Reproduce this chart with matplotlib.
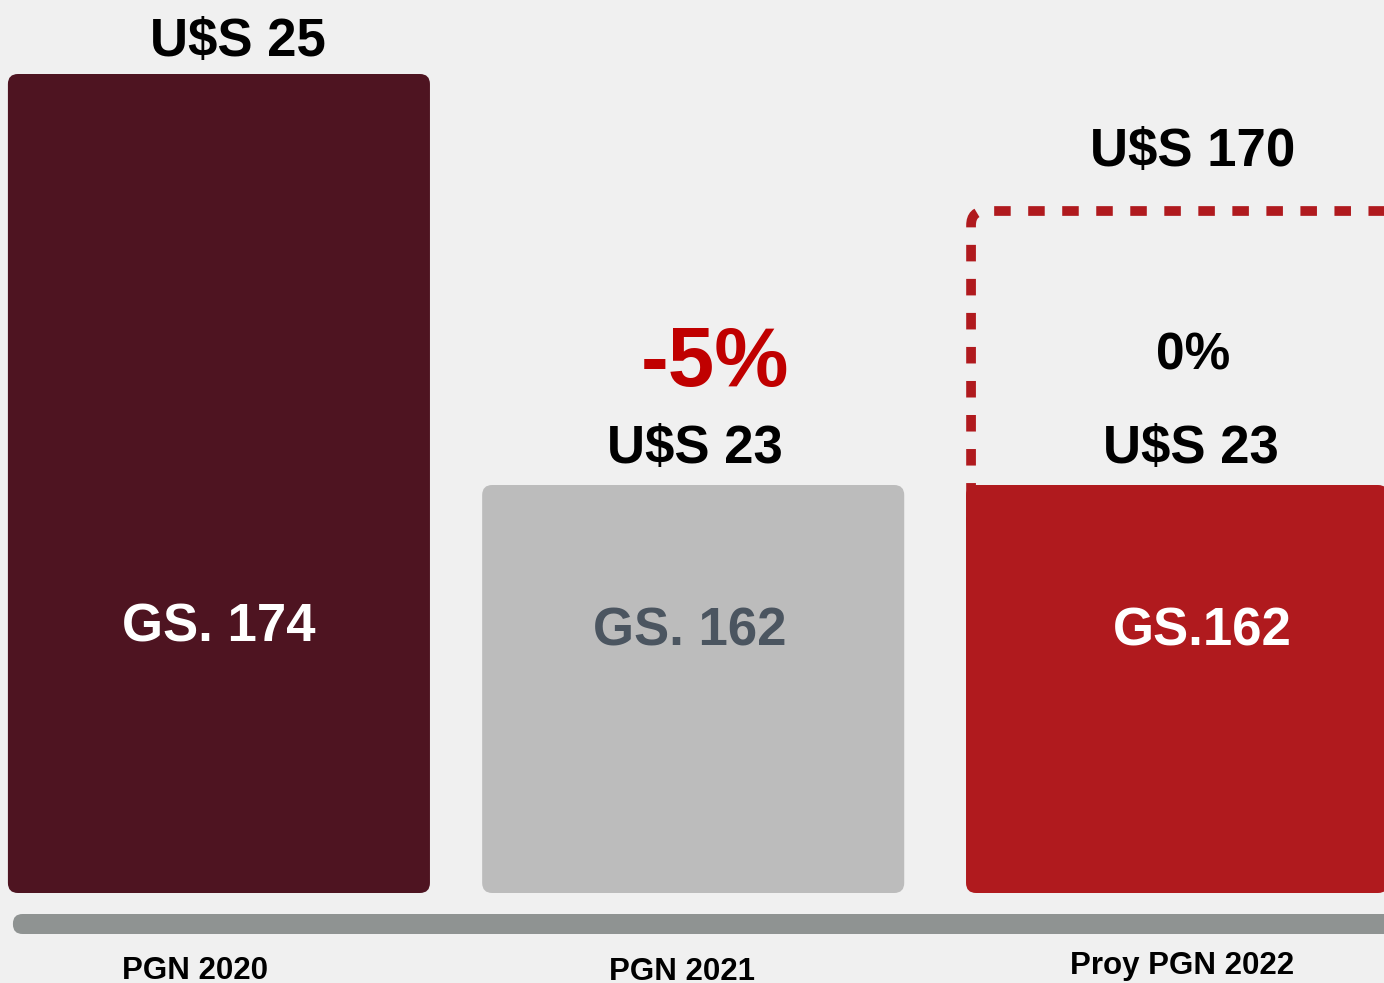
import matplotlib.pyplot as plt
from matplotlib.patches import FancyBboxPatch

# data
categories = ['PGN 2020', 'PGN 2021', 'Proy PGN 2022']
bar_heights = [819, 408, 408]          # relative bar heights
usd_labels = ['U$S 25', 'U$S 23', 'U$S 23']
gs_labels = ['GS. 174', 'GS. 162', 'GS.162']
change_labels = ['', '-5%', '0%']
target_label = 'U$S 170'
target_height = 682

bar_colors = ['#4e1421', '#bcbcbc', '#b01a1e']
gs_colors = ['white', '#4b5560', 'white']
change_colors = ['black', '#c00000', 'black']

plt.rcParams['font.family'] = ['Liberation Sans', 'DejaVu Sans']
plt.rcParams['font.weight'] = 'bold'

fig = plt.figure(figsize=(13.84, 9.83), dpi=100)
fig.patch.set_facecolor('#f0f0f0')
ax = fig.add_axes([0, 0, 1, 1])
ax.set_facecolor('#f0f0f0')
ax.set_xlim(-0.457, 2.432)
ax.set_ylim(-90, 893)
ax.axis('off')

# x unit vs y unit in pixels -> keeps corners round
aspect = 479.0

x = [0, 0.99, 2]
bars = ax.bar(x, bar_heights, width=0.881, color=bar_colors)
for b in bars:
    b.set_visible(False)
    rp = FancyBboxPatch((b.get_x(), b.get_y()), b.get_width(), b.get_height(),
                        boxstyle='round,pad=0,rounding_size=0.021',
                        mutation_aspect=aspect, fc=b.get_facecolor(),
                        ec='none', zorder=2)
    ax.add_patch(rp)

# gray base line
ax.add_patch(FancyBboxPatch((-0.43, -41), 3.0, 20,
                            boxstyle='round,pad=0,rounding_size=0.02',
                            mutation_aspect=aspect, fc='#8f9392', ec='none',
                            zorder=2))

# dashed target box for the projection
box = FancyBboxPatch((1.57, 358), 1.2, target_height - 358,
                     boxstyle='round,pad=0,rounding_size=0.03',
                     mutation_aspect=aspect, fill=False, ec='#b01a1e',
                     lw=7, linestyle=(0, (1.7, 1.8)), zorder=3)
ax.add_patch(box)
ax.text(2.033, 741, target_label, ha='center', va='center', fontsize=38,
        color='black', zorder=5)

usd_dx = [0.04, 0.004, 0.029]
gs_dx = [0.0, -0.007, 0.052]
lab_dx = [-0.05, -0.023, 0.01]
lab_y = [-78, -79, -73]
chg_dx = [0, 0.045, 0.033]
chg_size = [0, 60, 37]
chg_y = [0, 529, 537]

for i, xi in enumerate(x):
    top = bar_heights[i]
    ytxt = 851 if i == 0 else top + 36
    ax.text(xi + usd_dx[i], ytxt, usd_labels[i], ha='center', va='center',
            fontsize=38, color='black', zorder=5)
    ax.text(xi + gs_dx[i], 265 if i == 0 else 261, gs_labels[i], ha='center',
            va='center', fontsize=38, color=gs_colors[i], zorder=5)
    ax.text(xi + lab_dx[i], lab_y[i], categories[i], ha='center', va='center',
            fontsize=22.5, color='black', zorder=5)
    if change_labels[i]:
        ax.text(xi + chg_dx[i], chg_y[i], change_labels[i], ha='center',
                va='center', fontsize=chg_size[i], color=change_colors[i],
                zorder=5)

fig.savefig('out.png', dpi=100, facecolor=fig.get_facecolor())
